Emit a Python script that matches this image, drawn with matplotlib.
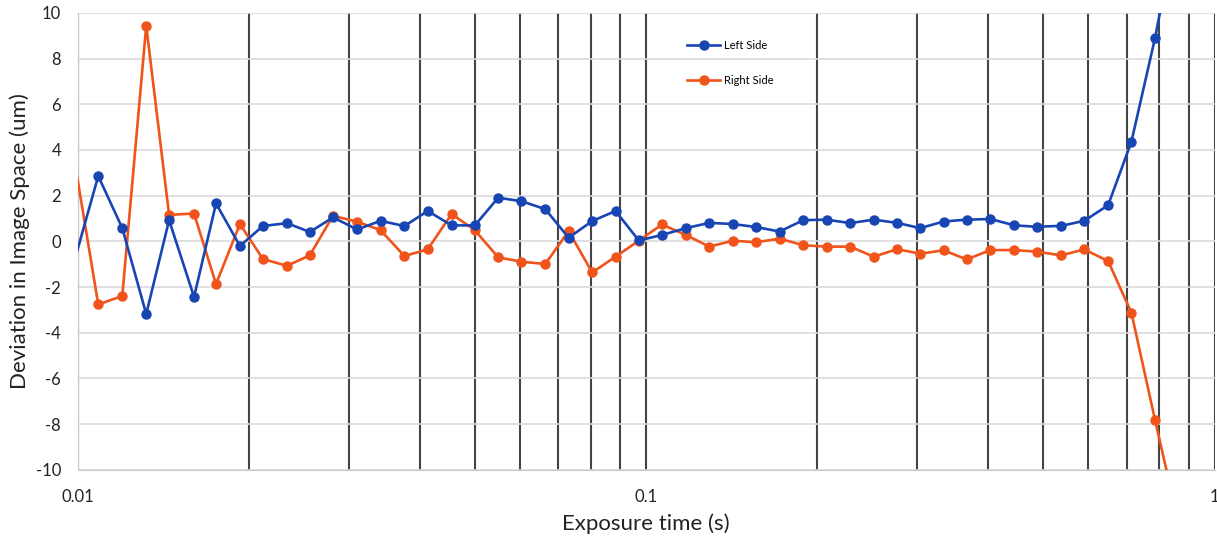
import matplotlib
matplotlib.use("Agg")
import matplotlib.pyplot as plt
from matplotlib.ticker import LogLocator, FixedLocator, NullFormatter

plt.rcParams['font.family'] = ['Lato', 'DejaVu Sans']
plt.rcParams['axes.unicode_minus'] = False

# exposure times (s)
exposure = [0.00988, 0.01086, 0.01197, 0.01319, 0.01447, 0.01601, 0.01750, 0.01928,
            0.02116, 0.02332, 0.02559, 0.02811, 0.03101, 0.03408, 0.03754, 0.04126,
            0.04546, 0.04994, 0.05489, 0.06031, 0.06643, 0.07303, 0.08034, 0.08832,
            0.09702, 0.10659, 0.11743, 0.12909, 0.14201, 0.15582, 0.17171, 0.18892,
            0.20761, 0.22846, 0.25139, 0.27627, 0.30343, 0.33358, 0.36644, 0.40326,
            0.44437, 0.48679, 0.53731, 0.58966, 0.64963, 0.71393, 0.78554, 0.8629]

left_side = [-0.77, 2.86, 0.58, -3.18, 0.93, -2.43, 1.66, -0.20, 0.67, 0.80, 0.41, 1.05,
             0.52, 0.90, 0.67, 1.33, 0.70, 0.70, 1.91, 1.76, 1.41, 0.16, 0.89, 1.33,
             0.04, 0.28, 0.58, 0.81, 0.76, 0.63, 0.43, 0.93, 0.95, 0.80, 0.95, 0.81,
             0.58, 0.87, 0.95, 0.98, 0.70, 0.64, 0.68, 0.90, 1.58, 4.36, 8.89, 14.1]

right_side = [3.42, -2.76, -2.39, 9.44, 1.16, 1.22, -1.87, 0.76, -0.77, -1.07, -0.61, 1.12,
              0.86, 0.49, -0.64, -0.35, 1.20, 0.49, -0.70, -0.89, -0.99, 0.45, -1.36, -0.67,
              0.03, 0.74, 0.28, -0.23, 0.03, -0.04, 0.12, -0.17, -0.23, -0.23, -0.67, -0.34,
              -0.54, -0.39, -0.79, -0.38, -0.38, -0.45, -0.61, -0.35, -0.86, -3.12, -7.81, -12.25]

x_ticks = [0.01, 0.1, 1]
x_ticklabels = ['0.01', '0.1', '1']
y_ticks = [-10, -8, -6, -4, -2, 0, 2, 4, 6, 8, 10]

fig = plt.figure(figsize=(12.17, 5.37), dpi=100)
ax = fig.add_axes([0.064, 0.125, 0.934, 0.851])

blue = '#1745B3'
orange = '#F0541A'

# first point sits just left of the axis, only its line segment shows
ax.plot(exposure, left_side, color=blue, lw=1.9, marker='o', ms=6.5,
        markevery=slice(1, None), label='Left Side', zorder=4)
ax.plot(exposure, right_side, color=orange, lw=1.9, marker='o', ms=6.5,
        markevery=slice(1, None), label='Right Side', zorder=3)

ax.set_xscale('log')
ax.set_xlim(0.01, 1)
ax.set_ylim(-10, 10)

ax.xaxis.set_major_locator(FixedLocator(x_ticks))
ax.set_xticklabels(x_ticklabels)
ax.xaxis.set_minor_locator(LogLocator(base=10, subs=range(2, 10)))
ax.xaxis.set_minor_formatter(NullFormatter())
ax.set_yticks(y_ticks)

ax.grid(axis='y', which='major', color='#dadada', lw=1.2, zorder=0)
ax.grid(axis='x', which='both', color='#444444', lw=1.5, zorder=1)
ax.tick_params(which='both', length=0, labelsize=12, colors='#222222')
ax.tick_params(axis='x', pad=14)
ax.tick_params(axis='y', pad=12)

for side in ['top', 'right']:
    ax.spines[side].set_visible(False)
ax.spines['left'].set_color('#c8c8c8')
ax.spines['bottom'].set_color('#c8c8c8')

ax.set_xlabel('Exposure time (s)', fontsize=16, labelpad=6, color='#222222')
ax.set_ylabel('Deviation in Image Space (um)', fontsize=16, labelpad=4, color='#222222')

ax.legend(loc='upper left', bbox_to_anchor=(0.527, 0.963), frameon=False,
          fontsize=8, labelspacing=2.2, handlelength=3.0, handletextpad=0.3)

fig.savefig('out.png', dpi=100, facecolor='white')
